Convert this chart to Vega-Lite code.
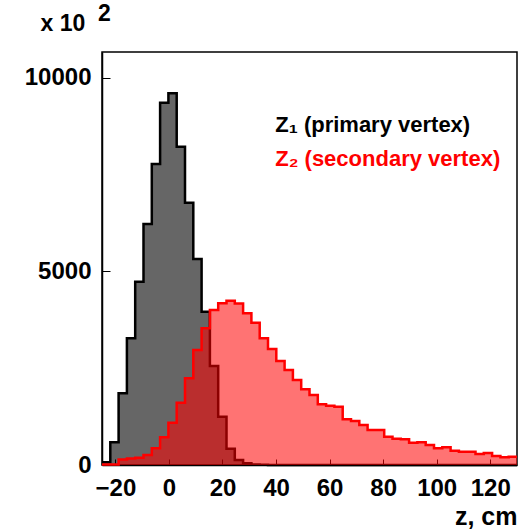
{
  "$schema": "https://vega.github.io/schema/vega-lite/v6.json",
  "width": 415,
  "height": 413,
  "autosize": {"type": "none"},
  "padding": {"left": 102, "top": 52, "right": 3, "bottom": 64},
  "background": "white",
  "config": {"view": {"stroke": "#000", "strokeWidth": 1.5}, "font": "Liberation Sans"},
  "datasets": {
    "black": [
      {"z": -25, "n": 70}, {"z": -21.9, "n": 590}, {"z": -18.8, "n": 1850}, {"z": -15.7, "n": 3270},
      {"z": -12.6, "n": 4732}, {"z": -9.5, "n": 6221}, {"z": -6.4, "n": 7770}, {"z": -3.3, "n": 9352},
      {"z": -0.2, "n": 9593}, {"z": 2.9, "n": 8217}, {"z": 6, "n": 6771}, {"z": 9.1, "n": 5317},
      {"z": 12.2, "n": 3958}, {"z": 15.3, "n": 2555}, {"z": 18.4, "n": 1248}, {"z": 21.5, "n": 420},
      {"z": 24.6, "n": 130}, {"z": 27.7, "n": 45}, {"z": 30.8, "n": 15}, {"z": 33.9, "n": 5},
      {"z": 37, "n": 0}, {"z": 40.1, "n": 0}, {"z": 43.2, "n": 0}, {"z": 46.3, "n": 0},
      {"z": 49.4, "n": 0}, {"z": 52.5, "n": 0}, {"z": 55.6, "n": 0}, {"z": 58.7, "n": 0},
      {"z": 61.8, "n": 0}, {"z": 64.9, "n": 0}, {"z": 68, "n": 0}, {"z": 71.1, "n": 0},
      {"z": 74.2, "n": 0}, {"z": 77.3, "n": 0}, {"z": 80.4, "n": 0}, {"z": 83.5, "n": 0},
      {"z": 86.6, "n": 0}, {"z": 89.7, "n": 0}, {"z": 92.8, "n": 0}, {"z": 95.9, "n": 0},
      {"z": 99, "n": 0}, {"z": 102.1, "n": 0}, {"z": 105.2, "n": 0}, {"z": 108.3, "n": 0},
      {"z": 111.4, "n": 0}, {"z": 114.5, "n": 0}, {"z": 117.6, "n": 0}, {"z": 120.7, "n": 0},
      {"z": 123.8, "n": 0}, {"z": 126.9, "n": 0}, {"z": 130, "n": 0}
    ],
    "red": [
      {"z": -25, "n": 10}, {"z": -21.9, "n": 15}, {"z": -18.8, "n": 140}, {"z": -15.7, "n": 165},
      {"z": -12.6, "n": 190}, {"z": -9.5, "n": 258}, {"z": -6.4, "n": 430}, {"z": -3.3, "n": 714},
      {"z": -0.2, "n": 1093}, {"z": 2.9, "n": 1609}, {"z": 6, "n": 2237}, {"z": 9.1, "n": 2968},
      {"z": 12.2, "n": 3527}, {"z": 15.3, "n": 4000}, {"z": 18.4, "n": 4173}, {"z": 21.5, "n": 4242},
      {"z": 24.6, "n": 4170}, {"z": 27.7, "n": 3915}, {"z": 30.8, "n": 3674}, {"z": 33.9, "n": 3270},
      {"z": 37, "n": 2994}, {"z": 40.1, "n": 2684}, {"z": 43.2, "n": 2452}, {"z": 46.3, "n": 2194},
      {"z": 49.4, "n": 1953}, {"z": 52.5, "n": 1807}, {"z": 55.6, "n": 1566}, {"z": 58.7, "n": 1532},
      {"z": 61.8, "n": 1506}, {"z": 64.9, "n": 1179}, {"z": 68, "n": 1136}, {"z": 71.1, "n": 1032},
      {"z": 74.2, "n": 903}, {"z": 77.3, "n": 903}, {"z": 80.4, "n": 731}, {"z": 83.5, "n": 680},
      {"z": 86.6, "n": 663}, {"z": 89.7, "n": 576}, {"z": 92.8, "n": 585}, {"z": 95.9, "n": 516},
      {"z": 99, "n": 430}, {"z": 102.1, "n": 456}, {"z": 105.2, "n": 370}, {"z": 108.3, "n": 344},
      {"z": 111.4, "n": 344}, {"z": 114.5, "n": 284}, {"z": 117.6, "n": 310}, {"z": 120.7, "n": 232},
      {"z": 123.8, "n": 198}, {"z": 126.9, "n": 215}, {"z": 130, "n": 215}
    ],
    "labels": [
      {"series": "Z1", "label": "Z₁ (primary vertex)", "z": 39.7, "n": 8595},
      {"series": "Z2", "label": "Z₂ (secondary vertex)", "z": 39.7, "n": 7725}
    ]
  },
  "encoding": {
    "x": {
      "field": "z", "type": "quantitative",
      "scale": {"domain": [-25, 130], "nice": false, "zero": false},
      "axis": {
        "values": [-20, 0, 20, 40, 60, 80, 100, 120],
        "tickSize": -6, "tickColor": "#000", "tickWidth": 1,
        "domainColor": "#000", "domainWidth": 1.5, "grid": false,
        "labelFontSize": 24, "labelFontWeight": "bold", "labelColor": "#000",
        "labelPadding": 17, "labelFlush": false,
        "title": "z, cm", "titleFontSize": 25, "titleFontWeight": "bold", "titleColor": "#000",
        "titleX": 415, "titleY": 59, "titleAlign": "right", "titleBaseline": "alphabetic"
      }
    },
    "y": {
      "field": "n", "type": "quantitative",
      "scale": {"domain": [0, 10660], "nice": false},
      "axis": {
        "values": [0, 5000, 10000], "format": "d",
        "tickSize": -8, "tickColor": "#000", "tickWidth": 1,
        "domainColor": "#000", "domainWidth": 1.5, "grid": false,
        "labelFontSize": 24, "labelFontWeight": "bold", "labelColor": "#000",
        "labelPadding": 19,
        "title": ["\u200b\u00a0\u00a0\u00a0\u00a0\u00a0\u00a0\u00a0\u00a0\u00a02", "x 10"], "titleFontSize": 23, "titleFontWeight": "bold", "titleColor": "#000",
        "titleLineHeight": 10,
        "titleAngle": 0, "titleX": -62, "titleY": -32, "titleAlign": "left", "titleBaseline": "alphabetic"
      }
    }
  },
  "layer": [
    {"data": {"name": "black"}, "mark": {"type": "area", "interpolate": "step-after", "fill": "#000", "fillOpacity": 0.6}},
    {"data": {"name": "black"}, "mark": {"type": "line", "interpolate": "step-after", "stroke": "#000", "strokeWidth": 2.5}},
    {"data": {"name": "red"}, "mark": {"type": "area", "interpolate": "step-after", "fill": "#ff0000", "fillOpacity": 0.55}},
    {"data": {"name": "red"}, "mark": {"type": "line", "interpolate": "step-after", "stroke": "#ff0000", "strokeWidth": 2.5}},
    {
      "data": {"name": "labels"},
      "mark": {"type": "text", "align": "left", "baseline": "alphabetic", "fontSize": 22, "fontWeight": "bold"},
      "encoding": {
        "text": {"field": "label"},
        "color": {"field": "series", "type": "nominal", "scale": {"domain": ["Z1", "Z2"], "range": ["#000000", "#ff0000"]}, "legend": null}
      }
    }
  ]
}
